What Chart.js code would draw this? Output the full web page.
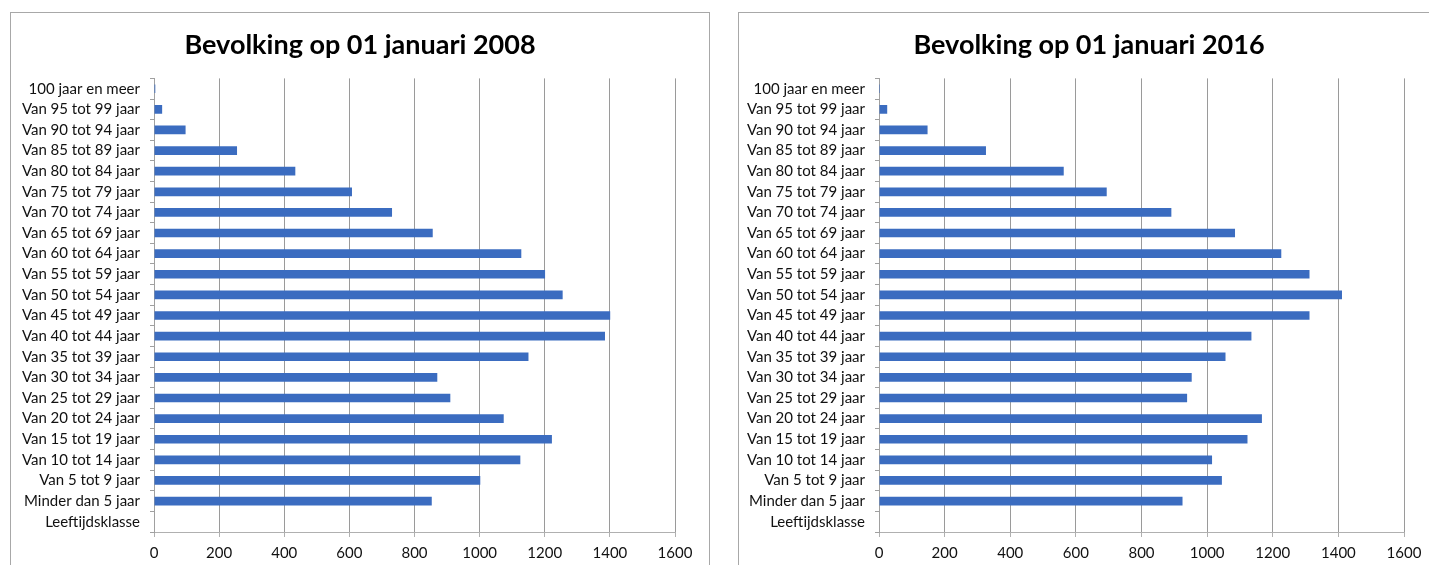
<!DOCTYPE html>
<html>
<head>
<meta charset="utf-8">
<script src="https://cdn.jsdelivr.net/npm/chart.js@4"></script>
<style>
  html, body { margin: 0; padding: 0; background: #fff; overflow: hidden; }
  body { width: 1429px; height: 565px; position: relative; }
  .box { position: absolute; top: 12px; border: 1px solid #a8a8a8; background: #fff; }
  #boxA { left: 10px; }
  #boxB { left: 738px; }
  canvas { display: block; }
</style>
</head>
<body>
<div class="box" id="boxA"><canvas id="chartA" width="698" height="552"></canvas></div>
<div class="box" id="boxB"><canvas id="chartB" width="700" height="552"></canvas></div>
<script>
// Age classes, listed top to bottom as on the axis
const ageClasses = [
  "100 jaar en meer", "Van 95 tot 99 jaar", "Van 90 tot 94 jaar", "Van 85 tot 89 jaar",
  "Van 80 tot 84 jaar", "Van 75 tot 79 jaar", "Van 70 tot 74 jaar", "Van 65 tot 69 jaar",
  "Van 60 tot 64 jaar", "Van 55 tot 59 jaar", "Van 50 tot 54 jaar", "Van 45 tot 49 jaar",
  "Van 40 tot 44 jaar", "Van 35 tot 39 jaar", "Van 30 tot 34 jaar", "Van 25 tot 29 jaar",
  "Van 20 tot 24 jaar", "Van 15 tot 19 jaar", "Van 10 tot 14 jaar", "Van 5 tot 9 jaar",
  "Minder dan 5 jaar", "Leeftijdsklasse"
];

// Population per age class on 1 January 2008
const population2008 = [
  4, 25, 97, 255, 434, 608, 731, 856, 1128, 1201, 1255,
  1401, 1385, 1150, 870, 910, 1074, 1222, 1125, 1002, 853, null
];

// Population per age class on 1 January 2016
const population2016 = [
  3, 25, 148, 326, 563, 694, 891, 1085, 1226, 1312, 1411,
  1312, 1135, 1056, 953, 939, 1167, 1123, 1015, 1045, 925, null
];

// Value axis ticks
const axisMin = 0;
const axisMax = 1600;
const axisStep = 200;

const titles = ["Bevolking op 01 januari 2008", "Bevolking op 01 januari 2016"];

const FONT = "Lato";
const barColor = "#3b6cc0";

// Centre the title over the full panel width, ignoring the right-hand padding
const fullWidthTitle = {
  id: "fullWidthTitle",
  afterLayout(chart) {
    const t = chart.titleBlock;
    if (t) {
      t.left = 0;
      t.right = chart.width;
      t.width = chart.width;
    }
  }
};

function makeChart(canvasId, title, values, yWidth, rightPad) {
  return new Chart(document.getElementById(canvasId), {
    type: "bar",
    data: {
      labels: ageClasses,
      datasets: [{
        data: values,
        backgroundColor: barColor,
        borderWidth: 0,
        categoryPercentage: 1.0,
        barPercentage: 0.42
      }]
    },
    plugins: [fullWidthTitle],
    options: {
      indexAxis: "y",
      responsive: false,
      animation: false,
      events: [],
      layout: { padding: { left: 0, right: rightPad, top: 0, bottom: 0 } },
      plugins: {
        legend: { display: false },
        tooltip: { enabled: false },
        title: {
          display: true,
          text: title,
          color: "#000",
          font: { family: FONT, size: 27, weight: "bold", lineHeight: 1.2 },
          padding: { top: 16, bottom: 17 }
        }
      },
      scales: {
        x: {
          type: "linear",
          min: axisMin,
          max: axisMax,
          ticks: {
            stepSize: axisStep,
            color: "#111",
            font: { family: FONT, size: 15 },
            padding: 7,
            callback: (v) => String(v)
          },
          grid: {
            color: "#9a9a9a",
            lineWidth: 1,
            drawTicks: true,
            tickLength: 5,
            tickColor: "#b0b0b0"
          },
          border: { display: true, color: "#b0b0b0", width: 1 },
          afterFit: (scale) => { scale.height = 33; }
        },
        y: {
          type: "category",
          ticks: {
            color: "#111",
            font: { family: FONT, size: 15 },
            padding: 10,
            autoSkip: false
          },
          grid: {
            offset: true,
            drawOnChartArea: false,
            drawTicks: true,
            tickLength: 4,
            tickColor: "#a0a0a0"
          },
          border: { display: true, color: "#a0a0a0", width: 1 },
          afterFit: (scale) => { scale.width = yWidth; }
        }
      }
    }
  });
}

makeChart("chartA", titles[0], population2008, 143, 34);
makeChart("chartB", titles[1], population2016, 140, 35);
</script>
</body>
</html>
